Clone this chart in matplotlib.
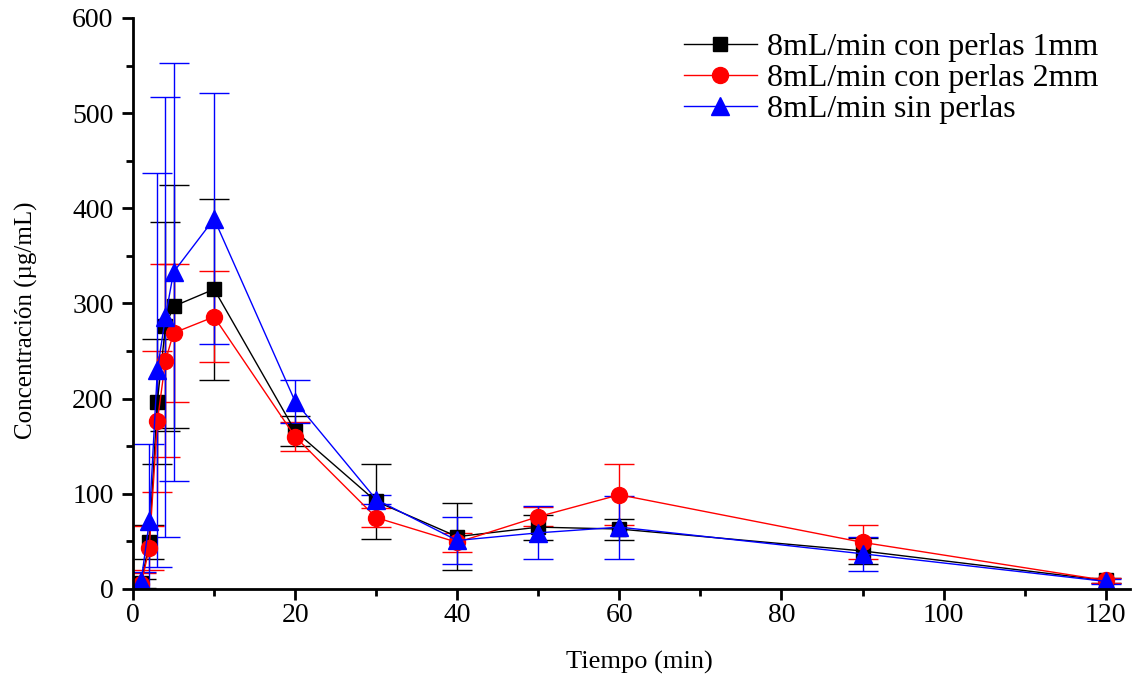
import numpy as np
import matplotlib
matplotlib.use('Agg')
import matplotlib.pyplot as plt
from matplotlib.ticker import MultipleLocator

plt.rcParams['font.family'] = ['Liberation Serif', 'DejaVu Serif']

# tiempos de muestreo (min)
tiempo = [1, 2, 3, 4, 5, 10, 20, 30, 40, 50, 60, 90, 120]

# concentraciones medias y desviaciones (ug/mL)
perlas_1mm = [6, 49, 197, 276, 297, 315, 166, 92, 55, 65, 63, 40, 9]
perlas_1mm_err = [5, 18, 66, 110, 128, 95, 16, 39, 35, 13, 11, 14, 3]

perlas_2mm = [5, 43, 176, 240, 269, 286, 160, 75, 49, 76, 99, 49, 9]
perlas_2mm_err = [12, 23, 74, 101, 73, 48, 15, 10, 10, 10, 32, 18, 3]

sin_perlas = [8, 71, 230, 286, 333, 389, 197, 94, 51, 59, 65, 37, 8]
sin_perlas_err = [10, 81, 207, 231, 220, 132, 23, 5, 25, 28, 33, 18, 3]

series = [
    (perlas_1mm, perlas_1mm_err, 'black', 's', 10, '8mL/min con perlas 1mm'),
    (perlas_2mm, perlas_2mm_err, 'red', 'o', 11.5, '8mL/min con perlas 2mm'),
    (sin_perlas, sin_perlas_err, 'blue', '^', 13, '8mL/min sin perlas'),
]

fig = plt.figure(figsize=(11.42, 6.81), dpi=100)
ax = fig.add_axes([0.1165, 0.1351, 0.873, 0.8385])

lineas = []
etiquetas = []
for y, err, color, marker, ms, label in series:
    cont = ax.errorbar(tiempo, y, yerr=err, color=color, marker=marker, markersize=ms,
                       linewidth=1, elinewidth=1, capsize=11, capthick=1, label=label)
    lineas.append(cont[0])
    etiquetas.append(label)

ax.set_xlim(0, 123)
ax.set_ylim(0, 600)
ax.xaxis.set_major_locator(MultipleLocator(20))
ax.xaxis.set_minor_locator(MultipleLocator(10))
ax.yaxis.set_major_locator(MultipleLocator(100))
ax.yaxis.set_minor_locator(MultipleLocator(50))

ax.spines['top'].set_visible(False)
ax.spines['right'].set_visible(False)
ax.spines['left'].set_linewidth(2)
ax.spines['bottom'].set_linewidth(2)
ax.tick_params(which='major', direction='out', length=8, width=2, labelsize=20)
ax.tick_params(axis='y', which='major', pad=6)
ax.tick_params(axis='x', which='major', pad=2)
ax.tick_params(which='minor', direction='out', length=5, width=2)

ax.set_xlabel('Tiempo (min)', fontsize=19)
ax.set_ylabel('Concentración (µg/mL)', fontsize=18)
ax.xaxis.set_label_coords(0.508, -0.108)
ax.yaxis.set_label_coords(-0.095, 0.47)

# leyenda solo con linea y marcador
ax.legend(lineas, etiquetas, loc='upper right', bbox_to_anchor=(1114 / 1142, 1 - 17 / 681),
          bbox_transform=fig.transFigure, frameon=False, fontsize=23, borderpad=0,
          handlelength=2.3, labelspacing=0.05, handletextpad=0.3)

plt.savefig('out.png', dpi=100)
